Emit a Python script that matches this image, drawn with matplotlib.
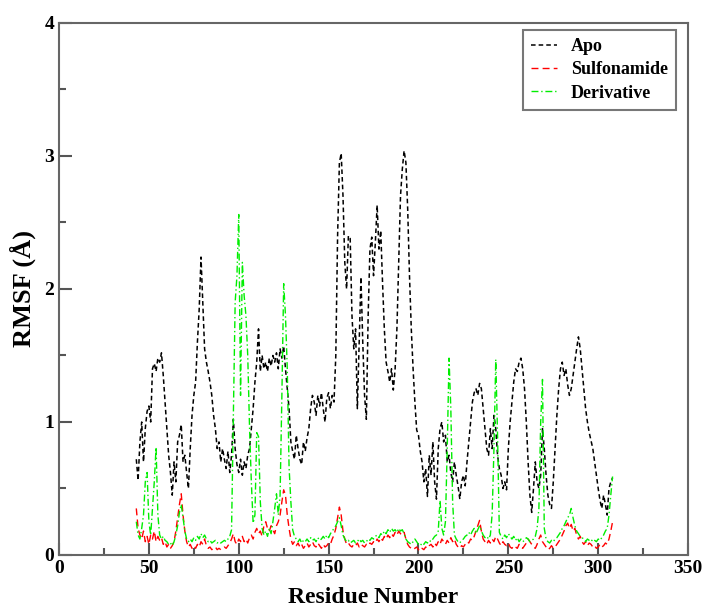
import numpy as np
import matplotlib
matplotlib.use('Agg')
import matplotlib.pyplot as plt

plt.rcParams['font.family'] = ['Liberation Serif', 'DejaVu Serif']
plt.rcParams['font.weight'] = 'bold'

# residue numbers 43..308
residues = list(range(43, 309))

apo = [
    0.72, 0.56, 0.85, 1.00, 0.70, 0.95, 1.08,                          # 43-49
    1.12, 1.00, 1.40, 1.44, 1.38, 1.48, 1.45, 1.52, 1.35, 1.15,        # 50-59
    0.95, 0.75, 0.62, 0.45, 0.70, 0.55, 0.85, 0.90, 0.98, 0.70,        # 60-69
    0.75, 0.62, 0.50, 0.80, 1.05, 1.20, 1.30, 1.60, 1.85, 2.24,        # 70-79
    1.90, 1.55, 1.45, 1.38, 1.30, 1.20, 1.05, 0.95, 0.80, 0.85,        # 80-89
    0.70, 0.80, 0.72, 0.65, 0.78, 0.62, 0.75, 1.02, 0.80, 0.68,        # 90-99
    0.62, 0.72, 0.60, 0.70, 0.65, 0.75, 0.80, 0.95, 1.10, 1.30,        # 100-109
    1.45, 1.70, 1.38, 1.50, 1.40, 1.45, 1.38, 1.48, 1.42, 1.50,        # 110-119
    1.45, 1.52, 1.40, 1.55, 1.48, 1.57, 1.40, 1.25, 1.10, 0.85,        # 120-129
    0.78, 0.72, 0.90, 0.80, 0.72, 0.68, 0.85, 0.78, 0.88, 0.95,        # 130-139
    1.10, 1.20, 1.15, 1.05, 1.20, 1.12, 1.22, 1.10, 1.00, 1.18,        # 140-149
    1.22, 1.10, 1.20, 1.15, 1.50, 2.40, 2.95, 3.02, 2.70, 2.20,        # 150-159
    2.00, 2.40, 2.38, 1.80, 1.55, 1.70, 1.10, 1.60, 2.09, 1.60,        # 160-169
    1.20, 1.02, 1.80, 2.30, 2.39, 2.10, 2.35, 2.63, 2.30, 2.44,        # 170-179
    2.05, 1.70, 1.45, 1.38, 1.30, 1.40, 1.24, 1.40, 1.70, 2.20,        # 180-189
    2.70, 2.90, 3.04, 2.95, 2.60, 2.10, 1.70, 1.40, 1.15, 0.94,        # 190-199
    0.90, 0.78, 0.70, 0.55, 0.65, 0.44, 0.75, 0.60, 0.85, 0.55,        # 200-209
    0.42, 0.80, 0.95, 1.00, 0.85, 0.90, 0.70, 0.75, 0.62, 0.55,        # 210-219
    0.70, 0.60, 0.52, 0.42, 0.55, 0.60, 0.52, 0.70, 0.85, 1.00,        # 220-229
    1.15, 1.22, 1.25, 1.20, 1.29, 1.25, 1.10, 0.95, 0.80, 0.75,        # 230-239
    0.95, 0.80, 1.05, 0.95, 0.75, 0.65, 0.60, 0.50, 0.55, 0.49,        # 240-249
    0.80, 1.00, 1.15, 1.30, 1.40, 1.38, 1.45, 1.48, 1.40, 1.25,        # 250-259
    1.00, 0.70, 0.45, 0.32, 0.50, 0.70, 0.55, 0.50, 0.60, 0.95,        # 260-269
    0.80, 0.60, 0.45, 0.38, 0.35, 0.55, 0.80, 1.05, 1.25, 1.40,        # 270-279
    1.45, 1.35, 1.40, 1.28, 1.20, 1.25, 1.35, 1.45, 1.55, 1.64,        # 280-289
    1.55, 1.40, 1.25, 1.10, 1.00, 0.92, 0.86, 0.80, 0.70, 0.60,        # 290-299
    0.50, 0.41, 0.35, 0.45, 0.38, 0.30, 0.50, 0.55, 0.58,              # 300-308
]

sulfonamide = [
    0.35, 0.20, 0.15, 0.12, 0.18, 0.10, 0.14,                          # 43-49
    0.08, 0.15, 0.12, 0.18, 0.10, 0.14, 0.11, 0.13, 0.08, 0.10,        # 50-59
    0.06, 0.08, 0.05, 0.07, 0.10, 0.18, 0.28, 0.38, 0.46, 0.30,        # 60-69
    0.18, 0.10, 0.06, 0.08, 0.05, 0.07, 0.05, 0.08, 0.06, 0.10,        # 70-79
    0.08, 0.12, 0.07, 0.05, 0.06, 0.04, 0.05, 0.06, 0.04, 0.05,        # 80-89
    0.04, 0.05, 0.06, 0.05, 0.07, 0.09, 0.12, 0.16, 0.10, 0.08,        # 90-99
    0.12, 0.10, 0.14, 0.10, 0.12, 0.09, 0.13, 0.15, 0.12, 0.17,        # 100-109
    0.20, 0.16, 0.18, 0.14, 0.22, 0.25, 0.20, 0.18, 0.22, 0.19,        # 110-119
    0.16, 0.22, 0.25, 0.30, 0.40, 0.49, 0.45, 0.30, 0.20, 0.12,        # 120-129
    0.08, 0.10, 0.07, 0.09, 0.06, 0.08, 0.05, 0.07, 0.09, 0.06,        # 130-139
    0.08, 0.10, 0.07, 0.06, 0.09, 0.07, 0.05, 0.08, 0.06, 0.07,        # 140-149
    0.09, 0.08, 0.12, 0.15, 0.20, 0.28, 0.36, 0.30, 0.18, 0.12,        # 150-159
    0.08, 0.09, 0.07, 0.06, 0.08, 0.07, 0.09, 0.06, 0.08, 0.07,        # 160-169
    0.06, 0.08, 0.07, 0.09, 0.08, 0.10, 0.09, 0.12, 0.10, 0.13,        # 170-179
    0.11, 0.14, 0.12, 0.15, 0.13, 0.16, 0.14, 0.17, 0.15, 0.18,        # 180-189
    0.16, 0.15, 0.17, 0.12, 0.08, 0.06, 0.05, 0.04, 0.05, 0.06,        # 190-199
    0.04, 0.03, 0.05, 0.04, 0.06, 0.05, 0.07, 0.08, 0.06, 0.09,        # 200-209
    0.07, 0.10, 0.08, 0.12, 0.10, 0.08, 0.11, 0.09, 0.13, 0.10,        # 210-219
    0.12, 0.08, 0.06, 0.05, 0.07, 0.06, 0.08, 0.10, 0.09, 0.12,        # 220-229
    0.11, 0.14, 0.18, 0.22, 0.26, 0.18, 0.12, 0.10, 0.08, 0.11,        # 230-239
    0.09, 0.12, 0.10, 0.14, 0.12, 0.09, 0.07, 0.10, 0.08, 0.07,        # 240-249
    0.09, 0.06, 0.05, 0.07, 0.06, 0.05, 0.08, 0.06, 0.05, 0.07,        # 250-259
    0.09, 0.12, 0.10, 0.08, 0.06, 0.05, 0.08, 0.12, 0.15, 0.10,        # 260-269
    0.08, 0.06, 0.04, 0.05, 0.07, 0.05, 0.06, 0.08, 0.10, 0.12,        # 270-279
    0.15, 0.18, 0.22, 0.24, 0.20, 0.23, 0.18, 0.20, 0.15, 0.12,        # 280-289
    0.14, 0.10, 0.08, 0.10, 0.07, 0.09, 0.08, 0.06, 0.07, 0.05,        # 290-299
    0.06, 0.08, 0.06, 0.07, 0.09, 0.08, 0.12, 0.18, 0.25,              # 300-308
]

derivative = [
    0.25, 0.15, 0.12, 0.20, 0.30, 0.55, 0.62,                          # 43-49
    0.25, 0.15, 0.35, 0.55, 0.81, 0.30, 0.15, 0.12, 0.14, 0.11,        # 50-59
    0.10, 0.08, 0.09, 0.07, 0.10, 0.15, 0.22, 0.32, 0.38, 0.28,        # 60-69
    0.18, 0.12, 0.10, 0.12, 0.10, 0.13, 0.11, 0.14, 0.12, 0.16,        # 70-79
    0.13, 0.15, 0.12, 0.10, 0.11, 0.09, 0.10, 0.11, 0.09, 0.10,        # 80-89
    0.09, 0.10, 0.11, 0.10, 0.12, 0.14, 0.19, 1.05, 1.90, 2.10,        # 90-99
    2.56, 1.20, 2.20, 1.95, 1.80, 1.50, 0.96, 0.55, 0.24, 0.30,        # 100-109
    0.92, 0.89, 0.40, 0.20, 0.15, 0.18, 0.14, 0.20, 0.16, 0.25,        # 110-119
    0.35, 0.46, 0.30, 0.45, 1.20, 2.04, 1.80, 1.40, 0.66, 0.40,        # 120-129
    0.19, 0.14, 0.12, 0.10, 0.12, 0.09, 0.11, 0.10, 0.12, 0.10,        # 130-139
    0.13, 0.11, 0.12, 0.10, 0.13, 0.11, 0.12, 0.14, 0.12, 0.15,        # 140-149
    0.13, 0.16, 0.18, 0.20, 0.22, 0.25, 0.28, 0.22, 0.15, 0.12,        # 150-159
    0.10, 0.11, 0.09, 0.10, 0.11, 0.09, 0.10, 0.12, 0.10, 0.11,        # 160-169
    0.09, 0.10, 0.12, 0.11, 0.13, 0.12, 0.14, 0.15, 0.13, 0.16,        # 170-179
    0.15, 0.18, 0.16, 0.19, 0.17, 0.20, 0.18, 0.19, 0.17, 0.20,        # 180-189
    0.18, 0.19, 0.16, 0.12, 0.10, 0.09, 0.08, 0.10, 0.12, 0.10,        # 190-199
    0.08, 0.07, 0.09, 0.08, 0.10, 0.09, 0.11, 0.10, 0.12, 0.14,        # 200-209
    0.15, 0.18, 0.41, 0.20, 0.15, 0.25, 0.80, 1.48, 1.10, 0.40,        # 210-219
    0.15, 0.12, 0.10, 0.09, 0.11, 0.12, 0.14, 0.15, 0.17, 0.15,        # 220-229
    0.18, 0.20, 0.16, 0.19, 0.22, 0.18, 0.15, 0.13, 0.14, 0.12,        # 230-239
    0.15, 0.31, 0.80, 1.47, 0.90, 0.17, 0.14, 0.12, 0.15, 0.13,        # 240-249
    0.16, 0.14, 0.12, 0.14, 0.11, 0.13, 0.10, 0.12, 0.10, 0.11,        # 250-259
    0.13, 0.12, 0.10, 0.11, 0.12, 0.14, 0.20, 0.35, 1.00, 1.32,        # 260-269
    0.20, 0.12, 0.10, 0.09, 0.11, 0.10, 0.12, 0.13, 0.15, 0.17,        # 270-279
    0.20, 0.22, 0.25, 0.28, 0.30, 0.35, 0.28, 0.22, 0.18, 0.16,        # 280-289
    0.14, 0.13, 0.12, 0.10, 0.12, 0.11, 0.10, 0.12, 0.11, 0.10,        # 290-299
    0.12, 0.11, 0.13, 0.15, 0.18, 0.20, 0.30, 0.45, 0.59,              # 300-308
]

fig = plt.figure(figsize=(7.06, 6.08), dpi=100)
ax = fig.add_axes([0.0836, 0.0872, 0.891, 0.875])

ax.plot(residues, apo, color='black', lw=1.1, dashes=(3, 2), label='Apo')
ax.plot(residues, sulfonamide, color='red', lw=1.0, dashes=(5, 3), label='Sulfonamide')
ax.plot(residues, derivative, color='#00ee00', lw=1.0, dashes=(5, 2, 1, 2), label='Derivative')

ax.set_xlim(0, 350)
ax.set_ylim(0, 4)
ax.set_xticks(np.arange(0, 351, 50))
ax.set_xticks(np.arange(0, 351, 25), minor=True)
ax.set_yticks(np.arange(0, 5, 1))
ax.set_yticks(np.arange(0, 4.01, 0.5), minor=True)
ax.tick_params(which='both', direction='in', top=False, right=False,
               color='#555555', width=1.5, labelsize=14)
ax.tick_params(which='major', length=9)
ax.tick_params(which='minor', length=5)
for lab in ax.get_xticklabels() + ax.get_yticklabels():
    lab.set_fontweight('bold')
for s in ax.spines.values():
    s.set_color('#666666')
    s.set_linewidth(1.5)

ax.set_xlabel('Residue Number', fontsize=17, fontweight='bold', labelpad=7)
ax.set_ylabel('RMSF (Å)', fontsize=19, fontweight='bold', labelpad=6)

leg = ax.legend(loc='upper right', bbox_to_anchor=(0.981, 0.987), borderaxespad=0,
                fontsize=13, frameon=True, fancybox=False, handlelength=1.4,
                borderpad=0.45, labelspacing=0.35, handletextpad=0.8)
leg.get_frame().set_edgecolor('#555555')
leg.get_frame().set_linewidth(1.5)
for t in leg.get_texts():
    t.set_fontweight('bold')

fig.savefig('out.png', dpi=100)
